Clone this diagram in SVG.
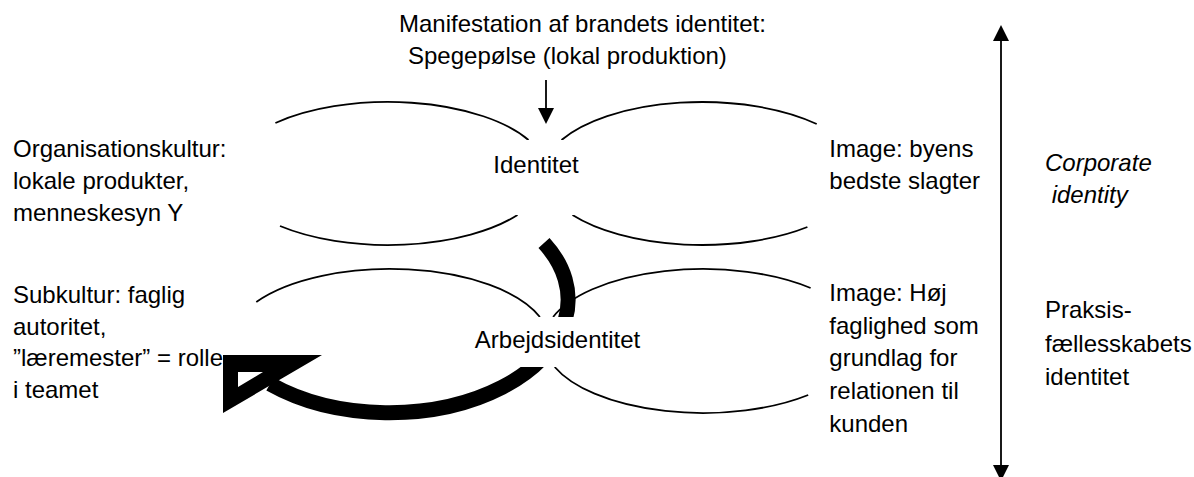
<svg xmlns="http://www.w3.org/2000/svg" width="1194" height="477" viewBox="0 0 1194 477">
<style>
  text { font-family: "Liberation Sans", Arial, sans-serif; font-size: 24px; fill: #000; }
  .it { font-style: italic; }
  .mid { text-anchor: middle; }
  .arc { fill: none; stroke: #000; stroke-width: 1.8; }
  .thin { fill: none; stroke: #000; stroke-width: 1.8; }
  .bg { fill: #fff; }
</style>
<defs>
  <marker id="ah" viewBox="0 0 16 16" markerWidth="16" markerHeight="16" refX="0" refY="8" orient="auto-start-reverse" markerUnits="userSpaceOnUse">
    <path d="M0,0 L16,8 L0,16 Z" fill="#000"/>
  </marker>
</defs>
<rect width="1194" height="477" fill="#fff"/>

<g id="ellipse-top-left">
  <path class="arc" d="M275.4,123 A159,71.5 0 0,1 528.5,140"/>
  <path class="arc" d="M280,226 A159,71.5 0 0,0 517.5,215"/>
</g>
<g id="ellipse-top-right">
  <path class="arc" d="M561.5,140 A159,71.5 0 0,1 816.7,124"/>
  <path class="arc" d="M572.5,215 A159,71.5 0 0,0 807.4,227"/>
</g>
<g id="ellipse-bottom-left">
  <path class="arc" d="M256.3,302 A159,72 0 0,1 539.9,317"/>
</g>
<g id="ellipse-bottom-right">
  <path class="arc" d="M553.1,317 A159,72 0 0,1 810.6,288"/>
  <path class="arc" d="M554.7,367 A159,72 0 0,0 808.2,395"/>
</g>

<g id="connectors">
  <line class="thin" x1="546" y1="80" x2="546" y2="108" marker-end="url(#ah)"/>
  <line class="thin" x1="1001" y1="41" x2="1001" y2="465" marker-start="url(#ah)" marker-end="url(#ah)"/>
  <path d="M544,243 A179,113 0 0,1 270,384" fill="none" stroke="#000" stroke-width="15"/>
  <path d="M223,355 L322,355 L223,413 Z M238,372 L263,372 L238,387 Z" fill="#000" fill-rule="evenodd"/>
</g>

<g id="node-identitet">
  <rect class="bg" x="485" y="140" width="115" height="75"/>
  <text class="mid" x="536" y="173">Identitet</text>
</g>
<g id="node-arbejdsidentitet">
  <rect class="bg" x="462" y="317" width="190" height="50"/>
  <text class="mid" x="557.5" y="348">Arbejdsidentitet</text>
</g>

<g id="label-manifestation">
  <text x="399" y="31.5">Manifestation af brandets identitet:</text>
  <text x="408" y="63.5">Spegepølse (lokal produktion)</text>
</g>
<g id="label-organisationskultur">
  <text x="13" y="156.5">Organisationskultur:</text>
  <text x="13" y="189">lokale produkter,</text>
  <text x="13" y="221">menneskesyn Y</text>
</g>
<g id="label-subkultur">
  <text x="13" y="302.7">Subkultur: faglig</text>
  <text x="13" y="334.5">autoritet,</text>
  <text x="13" y="366.2">”læremester” = rolle</text>
  <text x="13" y="397.7">i teamet</text>
</g>
<g id="label-image-top">
  <text x="829.3" y="156.7">Image: byens</text>
  <text x="829.3" y="189">bedste slagter</text>
</g>
<g id="label-image-bottom">
  <text x="829.3" y="300.7">Image: Høj</text>
  <text x="829.3" y="333.5">faglighed som</text>
  <text x="829.3" y="366.2">grundlag for</text>
  <text x="829.3" y="399">relationen til</text>
  <text x="829.3" y="431.7">kunden</text>
</g>
<g id="label-corporate">
  <text class="it" x="1045" y="170.5">Corporate</text>
  <text class="it" x="1045" y="203.3" xml:space="preserve"> identity</text>
</g>
<g id="label-praksis">
  <text x="1045" y="318.3">Praksis-</text>
  <text x="1045" y="351.7">fællesskabets</text>
  <text x="1045" y="385">identitet</text>
</g>
</svg>
